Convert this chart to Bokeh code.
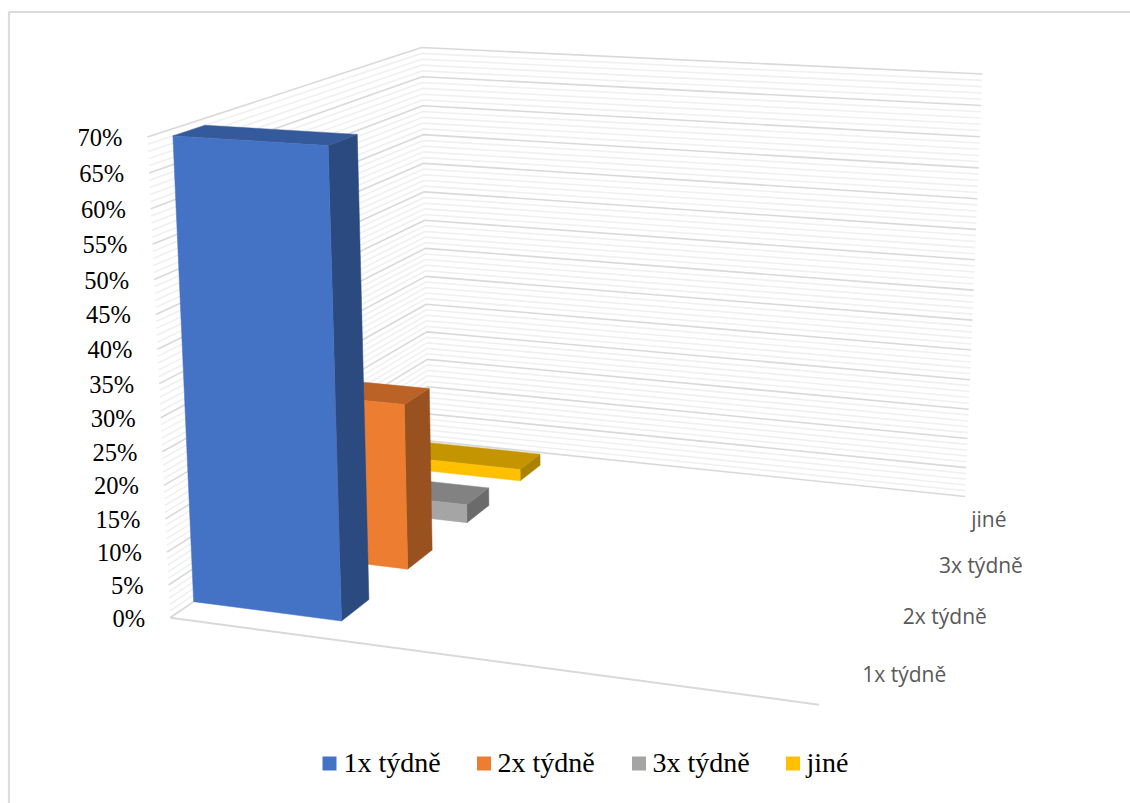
import numpy as np
from bokeh.plotting import figure
from bokeh.models import Range1d
from bokeh.core.properties import value
from bokeh.embed import file_html
from bokeh.resources import INLINE

# ---- data ----
SERIES = ["1x týdně", "2x týdně", "3x týdně", "jiné"]
VALUES = [69, 26, 3, 2]
TICK_LABELS = ["0%", "5%", "10%", "15%", "20%", "25%", "30%", "35%", "40%", "45%", "50%", "55%", "60%", "65%", "70%"]
TICK_VALUES = [0, 5, 10, 15, 20, 25, 30, 35, 40, 45, 50, 55, 60, 65, 70]
FRONT = ["#4472C4", "#ED7D31", "#A5A5A5", "#FFC000"]
TOP = ["#355A9C", "#BB6226", "#828282", "#C49500"]
SIDE = ["#2B4A80", "#9A5120", "#6B6B6B", "#AB8200"]

# ---- perspective camera of the 3D box, solved from its visible corners ----
VMAX = 70.0
corners = [((0, 0, 0), (170, 617)), ((1, 0, 0), (818, 705)), ((1, 1, 0), (965, 495)),
           ((0, 1, 0), (428, 441)), ((0, 0, 1), (147, 136)), ((0, 1, 1), (421, 47)),
           ((1, 1, 1), (982, 74))]
A, b = [], []
for (s, t, h), (x, y) in corners:
    A.append([s, t, h, 1, 0, 0, 0, 0, -x * s, -x * t, -x * h]); b.append(x)
    A.append([0, 0, 0, 0, s, t, h, 1, -y * s, -y * t, -y * h]); b.append(y)
m = np.linalg.lstsq(np.array(A, float), np.array(b, float), rcond=None)[0]


def proj(s, t, v):
    h = v / VMAX
    w = m[8] * s + m[9] * t + m[10] * h + 1
    return (m[0] * s + m[1] * t + m[2] * h + m[3]) / w, (m[4] * s + m[5] * t + m[6] * h + m[7]) / w


W, H = 1130, 803
p = figure(width=W, height=H, x_range=Range1d(0, W), y_range=Range1d(H, 0),
           output_backend="svg", toolbar_location=None, min_border=0,
           background_fill_color="white", border_fill_color="white", outline_line_color=None)
p.xaxis.visible = False
p.yaxis.visible = False
p.grid.visible = False

SERIF = value("Liberation Serif")
SANS = value("Open Sans")

# chart frame
p.line([8.5, 8.5, W], [H, 11.5, 11.5], line_color="#dcdcdc", line_width=2.2)

# walls: minor gridlines every 1 %, major every 5 %
for v in range(0, 71):
    if v % 5:
        pts = [proj(0, 0, v), proj(0, 1, v), proj(1, 1, v)]
        p.line([q[0] for q in pts], [q[1] for q in pts], line_color="#f0f0f0", line_width=1.6)
for v in TICK_VALUES:
    pts = [proj(0, 0, v), proj(0, 1, v), proj(1, 1, v)]
    p.line([q[0] for q in pts], [q[1] for q in pts], line_color="#d9d9d9", line_width=1.6)
# floor front edge
pts = [proj(0, 0, 0), proj(1, 0, 0)]
p.line([q[0] for q in pts], [q[1] for q in pts], line_color="#d9d9d9", line_width=2)

# bars, back to front
S0, S1 = 0.0, 0.248
HALF_DEPTH = 0.05
n = len(SERIES)
for i in reversed(range(n)):
    val = VALUES[i]
    c = (i + 0.5) / n
    t0, t1 = c - HALF_DEPTH, c + HALF_DEPTH
    faces = [
        ([(S1, t0, 0), (S1, t1, 0), (S1, t1, val), (S1, t0, val)], SIDE[i]),
        ([(S0, t0, val), (S1, t0, val), (S1, t1, val), (S0, t1, val)], TOP[i]),
        ([(S0, t0, 0), (S1, t0, 0), (S1, t0, val), (S0, t0, val)], FRONT[i]),
    ]
    for face, col in faces:
        pts = [proj(*q) for q in face]
        p.patch([q[0] for q in pts], [q[1] for q in pts], fill_color=col, line_color=col, line_width=0.5)

# value tick labels
xs, ys = zip(*[proj(0, 0, v) for v in TICK_VALUES])
p.text(x=[x - 25 for x in xs], y=[y + 0.5 for y in ys], text=TICK_LABELS, text_font=SERIF,
       text_font_size="24.5px", text_color="#000000", text_align="right", text_baseline="middle")

# depth axis labels
xs, ys = zip(*[proj(1, (i + 0.5) / n, 0) for i in range(n)])
p.text(x=[x + 21 for x in xs], y=[y + 1 for y in ys], text=SERIES, text_font=SANS,
       text_font_size="21px", text_color="#595959", text_align="left", text_baseline="middle")

# legend
LEG_SWATCH_X = [329, 483.5, 638.5, 792.5]
LEG_TEXT_X = [343, 497, 652, 806]
p.scatter(x=LEG_SWATCH_X, y=[763] * n, marker="square", size=14, fill_color=FRONT, line_color=None)
p.text(x=LEG_TEXT_X, y=[762] * n, text=SERIES, text_font=SERIF, text_font_size="28px",
       text_color="#000000", text_align="left", text_baseline="middle")

open("out.html", "w").write(file_html(p, INLINE))
